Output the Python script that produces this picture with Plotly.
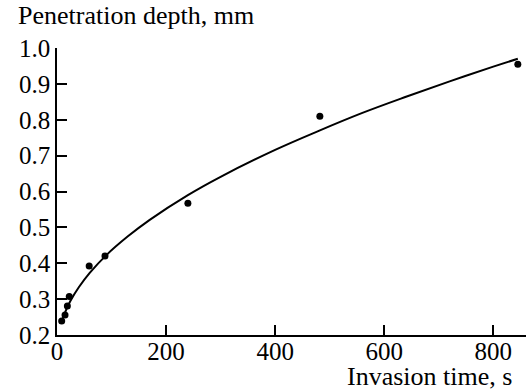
import plotly.graph_objects as go

# Measured points
time_s = [8.6, 14.7, 19, 22.5, 59, 88, 240, 482, 845]
depth_mm = [0.239, 0.256, 0.281, 0.307, 0.392, 0.42, 0.567, 0.81, 0.955]

# Fitted curve
curve_t = [8, 15, 25, 40, 60, 90, 130, 170, 240, 300, 400, 480, 560, 640, 720, 800, 845]
curve_y = [0.235, 0.264, 0.296, 0.333, 0.373, 0.422, 0.475, 0.521, 0.590, 0.641,
           0.716, 0.769, 0.819, 0.864, 0.907, 0.948, 0.970]

x_ticks = [0, 200, 400, 600, 800]
y_ticks = [0.2, 0.3, 0.4, 0.5, 0.6, 0.7, 0.8, 0.9, 1.0]

FONT = "Liberation Serif"

fig = go.Figure()
fig.add_trace(go.Scatter(x=curve_t, y=curve_y, mode="lines",
                         line=dict(color="black", width=2, shape="spline"),
                         showlegend=False, hoverinfo="skip"))
fig.add_trace(go.Scatter(x=time_s, y=depth_mm, mode="markers",
                         marker=dict(color="black", size=7),
                         showlegend=False))

fig.update_layout(
    width=526, height=392,
    margin=dict(l=57, r=0, t=48, b=57),
    paper_bgcolor="white", plot_bgcolor="white",
    font=dict(family=FONT, size=25, color="black"),
    xaxis=dict(range=[0, 860], tickvals=x_ticks, ticktext=[str(v) for v in x_ticks],
               ticks="inside", ticklen=10, tickwidth=1.5, tickcolor="black",
               showline=True, linecolor="black", linewidth=1.5,
               tickfont=dict(family=FONT, size=25, color="black"),
               ticklabelstandoff=-7,
               showgrid=False, zeroline=False),
    yaxis=dict(range=[0.2, 1.0], tickvals=y_ticks, ticktext=[f"{v:.1f}" for v in y_ticks],
               ticks="inside", ticklen=10, tickwidth=1.5, tickcolor="black",
               showline=True, linecolor="black", linewidth=1.5,
               tickfont=dict(family=FONT, size=25, color="black"),
               showgrid=False, zeroline=False),
    annotations=[
        dict(text="Penetration depth, mm", xref="paper", yref="paper",
             x=-57/469, y=1.0, xshift=16, yshift=16, xanchor="left", yanchor="bottom",
             showarrow=False, font=dict(family=FONT, size=26)),
        dict(text="Invasion time, s", xref="paper", yref="paper",
             x=1.0, y=0, xshift=-12, yshift=-58, xanchor="right", yanchor="bottom",
             showarrow=False, font=dict(family=FONT, size=26)),
    ],
)

fig.write_html("out.html")
